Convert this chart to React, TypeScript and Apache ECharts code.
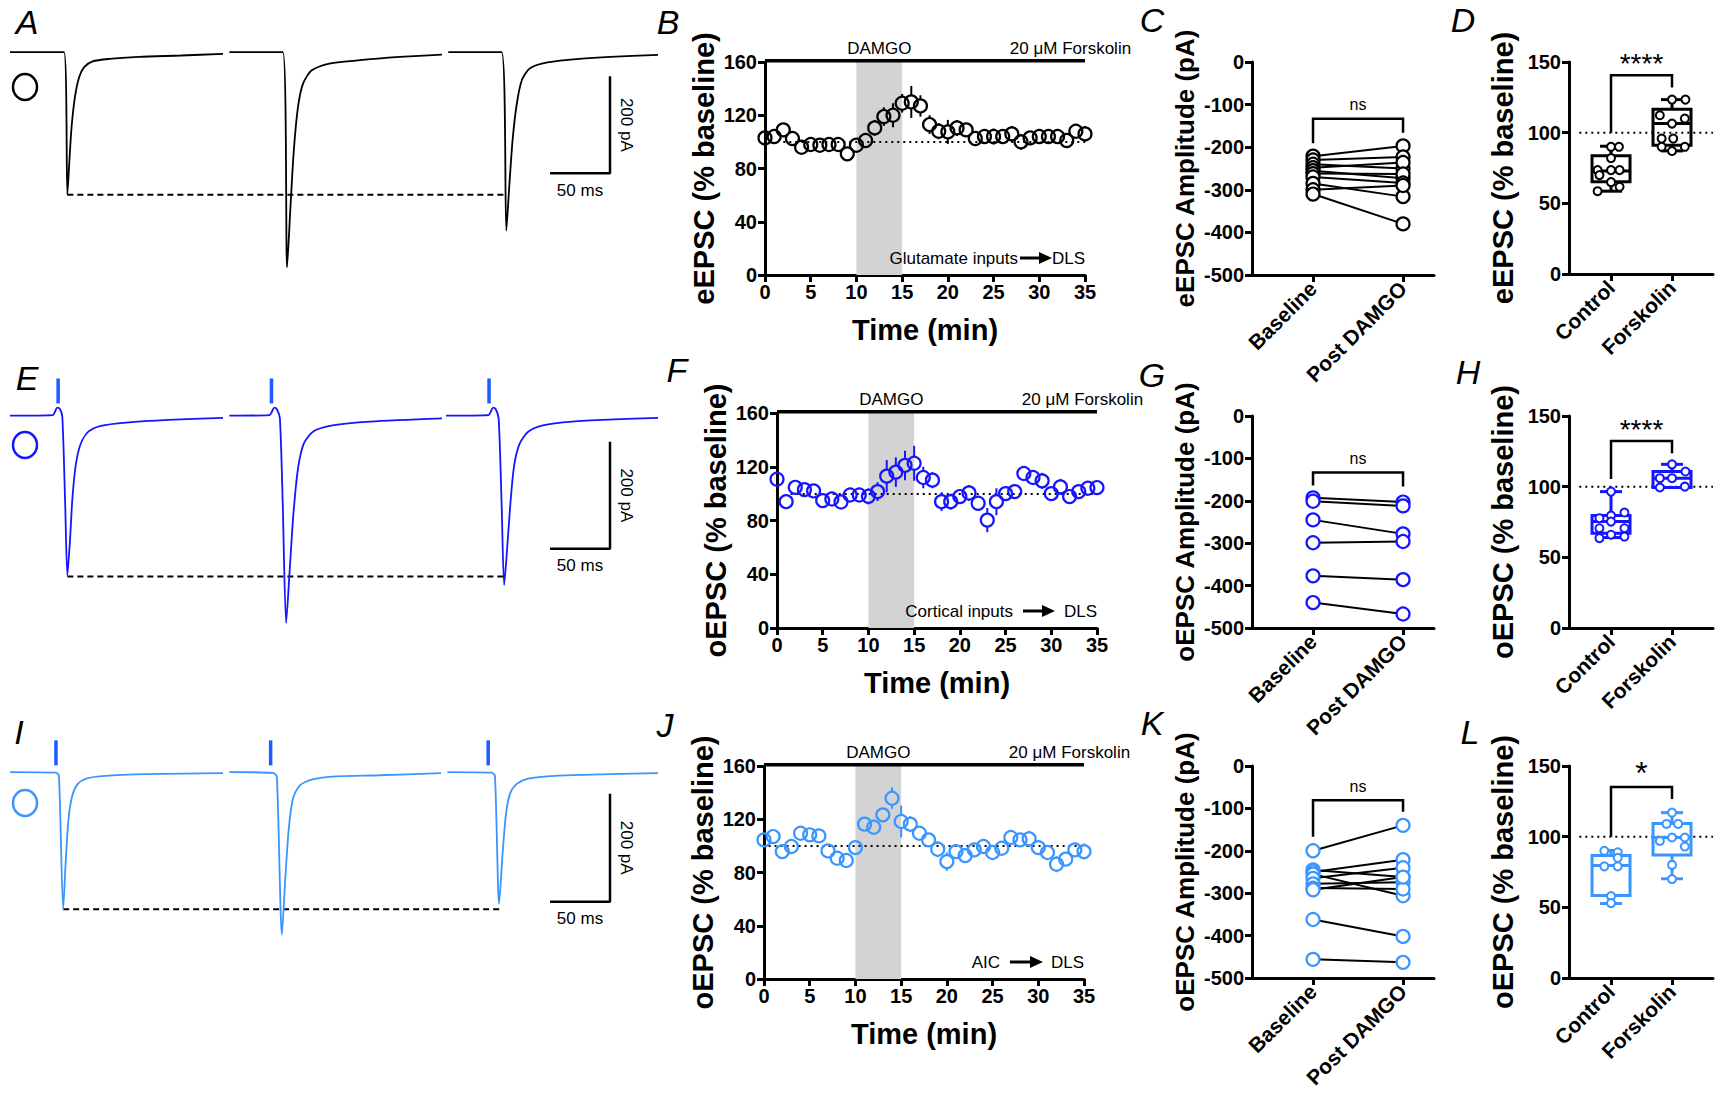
import React, { useEffect, useRef } from "react";
import * as echarts from "echarts";

const FONT = '"Liberation Sans", Arial, Helvetica, sans-serif';
const BLACK = "#000000";
const BLUE = "#1515ff";
const LBLUE = "#3b95ff";
const STIM = "#1a5cff";

// ---------------- time-course data (B, F, J) ----------------
const timeMin = [0, 1, 2, 3, 4, 5, 6, 7, 8, 9, 10, 11, 12, 13, 14, 15, 16, 17, 18, 19, 20, 21, 22, 23, 24, 25, 26, 27, 28, 29, 30, 31, 32, 33, 34, 35];
const bMean = [103, 104, 109, 102.5, 96, 98, 97.5, 98, 98, 91, 97.5, 101, 110.5, 119, 120, 129, 130, 127, 113, 108, 107.5, 110.5, 109, 102.5, 104, 104, 104, 106, 100, 103, 104, 104, 104, 101, 108, 106];
const bSem = [3, 3, 3, 3, 3, 3, 3, 3, 5, 3, 3, 3, 6, 7, 9, 7, 12, 8, 7, 6, 9, 6, 5, 3, 3, 6, 4, 6, 6, 3, 3, 3, 3, 4, 3, 6];
const fMean = [110.7, 94, 104.7, 103, 102, 94.8, 96, 93.8, 99, 99, 98, 101.5, 113, 116, 121, 122.6, 112, 110, 94, 94, 97.8, 100.5, 92.8, 80.3, 94, 100, 101.5, 115, 112, 109.5, 100, 105, 97.8, 101.5, 104, 104.5];
const fSem = [3, 5, 3, 3, 3, 3, 3, 3, 4, 4, 6, 7, 12, 11, 11, 13, 8, 6, 7, 6, 5, 6, 3, 9, 10, 3, 5, 3, 5, 6, 3, 6, 3, 5, 3, 3];
const jMean = [104.5, 107, 95.7, 99.5, 109.5, 108.3, 107.5, 96.2, 90.7, 89, 98.7, 116.3, 114, 123.3, 135.8, 118.3, 116.3, 109.5, 104.5, 97.5, 88.2, 95.7, 92.7, 97, 99.5, 95, 98.2, 106.3, 104.5, 105.3, 98.7, 95, 86.2, 90, 97, 95.7];
const jSem = [3, 3, 3, 3, 3, 3, 3, 3, 3, 3, 3, 3, 5, 5, 8, 12, 6, 4, 5, 6, 7, 5, 5, 3, 3, 4, 3, 5, 5, 6, 3, 3, 6, 5, 3, 6];
const tcXTicks = [0, 35, 5];
const tcYTicks = [0, 160, 40];
const damgoWindow = [10, 15];
const drugBarLevel = 161;
const baselineLevel = 100;

// ---------------- paired data (C, G, K) ----------------
const pairedCats = ["Baseline", "Post DAMGO"];
const cBaseline = [-221, -230, -240, -248, -255, -262, -270, -285, -300, -310];
const cPost = [-197, -223, -250, -236, -273, -263, -284, -316, -290, -380];
const gBaseline = [-193, -201, -245, -299, -377, -440];
const gPost = [-203, -212, -278, -296, -386, -467];
const kBaseline = [-200, -245, -250, -255, -265, -278, -288, -292, -362, -456];
const kPost = [-140, -262, -221, -306, -240, -274, -290, -262, -402, -463];
const pairedYTicks = [-500, 0, 100];

// brackets: [x0, x1, top, leg0, leg1]
const cBracket = [0, 1, -133, -191, -166];
const gBracket = [0, 1, -133, -164, -166];
const kBracket = [0, 1, -81, -167, -108];
const dBracket = [0, 1, 140.6, 100, 131.9];
const hBracket = [0, 1, 132.3, 105.5, 123.6];
const lBracket = [0, 1, 135.2, 100, 126.6];

// ---------------- box data (D, H, L) ----------------
const boxCats = ["Control", "Forskolin"];
const boxYTicks = [0, 150, 50];
// [min, q1, median, q3, max]
const dControlBox = [58.6, 65.2, 72.8, 83.6, 90.4];
const dForskBox = [87.1, 91.1, 106.4, 116.5, 123.4];
const hControlBox = [64, 67.1, 75.3, 79.6, 96.5];
const hForskBox = [99.4, 99.4, 106, 110.7, 115.8];
const lControlBox = [52.7, 58.4, 79.6, 86.6, 90.2];
const lForskBox = [70.2, 87.1, 99.4, 109.3, 117];
const dControlPts = [[0, 90], [0.13, 90], [0, 82], [-0.22, 73.5], [0, 73.5], [0.14, 73.5], [-0.19, 70], [0, 65], [-0.22, 58.6], [0.14, 61.7]];
const dForskPts = [[0.22, 123.4], [0, 123.4], [-0.2, 112.3], [0.21, 110], [0, 106.4], [-0.17, 95.8], [0.02, 95.8], [-0.17, 90], [0.21, 90], [0, 87]];
const hControlPts = [[0, 96.5], [0.22, 81.7], [0, 79.6], [-0.19, 77.7], [0, 75.3], [-0.19, 70.6], [0.22, 70.6], [0, 66], [-0.19, 63.6], [0.22, 64.7]];
const hForskPts = [[0, 115.8], [0.22, 110.7], [-0.2, 106], [0, 106], [-0.2, 99.4], [0.21, 100]];
const lControlPts = [[-0.11, 90], [0.11, 89], [0.11, 85], [-0.11, 79], [0.11, 79], [0, 58], [0, 53]];
const lForskPts = [[0, 117], [-0.09, 109], [0.1, 109], [-0.2, 97], [0, 99.4], [0.21, 99.4], [0.21, 93], [0, 80], [0, 70]];

// ---------------- traces (A, E, I): [ms, pA] ----------------
const aSweeps = [
  [[0, 0], [45, 0], [47.8, -294], [49.5, -224], [51.3, -155], [54.1, -93], [57.6, -52], [61.8, -31], [68.8, -19], [82.9, -14], [107.4, -10], [142.5, -7], [177.5, -3.5]],
  [[182.8, 0], [227.4, 0], [230.9, -444], [233.7, -320], [236.5, -203], [240, -113], [244.2, -65], [251.2, -38], [265.2, -24], [289.8, -17], [324.8, -10], [359.9, -5]],
  [[365.2, 0], [409.7, 0], [413.6, -368], [416, -279], [418.8, -182], [422.3, -107], [426.5, -58], [432.9, -34], [444.1, -23], [465.1, -16], [500.2, -10], [540, -5.5]],
];
const eSweeps = [
  [[0, -1], [35.5, 0], [39.4, 14], [41.5, 12], [43.6, -3], [46, -168], [47.8, -300], [49.9, -237], [52, -156], [54.8, -93], [59, -53], [65.3, -31], [75.8, -20], [96.9, -14], [132, -9], [177.5, -5]],
  [[182.8, -1], [216.1, 0], [220.3, 14], [222.4, 11], [224.9, -6], [227.3, -168], [230.1, -389], [233, -293], [236.1, -187], [240, -100], [244.9, -53], [253, -30], [268.7, -19], [300.3, -12], [360, -6]],
  [[363.4, -1], [398.5, 0], [402.7, 14], [404.8, 11], [407.2, -6], [409.7, -168], [411.8, -318], [414.3, -249], [417.1, -162], [420.2, -93], [424.8, -53], [431.8, -31], [444.1, -19], [468.6, -12], [503.7, -8], [540, -5]],
];
const iSweeps = [
  [[0, 0], [38.3, -1], [40.8, -7], [44.3, -254], [46.4, -167], [48.8, -86], [52, -43], [56.5, -22], [63.6, -12], [79.4, -7], [114.4, -4], [177.5, -2]],
  [[182.8, 0], [219.6, -2], [222.4, -9], [226.6, -301], [229.4, -198], [232.3, -105], [235.8, -49], [241.4, -25], [251.2, -14], [272.2, -8], [307.3, -6], [359.2, -2]],
  [[364.5, 0], [401.3, -1], [404.1, -7], [407.6, -244], [410.4, -154], [413.2, -80], [416.7, -40], [422.3, -22], [431.8, -12], [454.6, -7], [500.2, -4], [540, -2]],
];
const aPeakLine = [[47.8, -294], [413.6, -294]];
const ePeakLine = [[47.8, -302], [411.8, -302]];
const iPeakLine = [[44.3, -254], [410, -254]];
const eStim = [[40.1, 21.8, 68.5], [217.9, 21.8, 68.5], [399.2, 21.8, 68.5]];
const iStim = [[38.3, 12.3, 58.6], [217.2, 12.3, 58.6], [398.5, 12.3, 58.6]];
const aScaleBar = [[450, -250], [500, -250], [500, -50]];
const eScaleBar = [[450, -250], [500, -250], [500, -50]];
const iScaleBar = [[450, -240], [500, -240], [500, -40]];

// ---------------- layout ----------------
type G = { left: number; top: number; width: number; height: number };
const GRID: G[] = [
  { left: 10, top: 40, width: 648, height: 240 }, // A
  { left: 765, top: 62, width: 320, height: 213 }, // B
  { left: 1252, top: 62, width: 182, height: 213 }, // C
  { left: 1569, top: 62, width: 144, height: 212 }, // D
  { left: 10, top: 367, width: 648, height: 270 }, // E
  { left: 777, top: 413, width: 320, height: 215 }, // F
  { left: 1252, top: 416, width: 182, height: 212 }, // G
  { left: 1569, top: 416, width: 144, height: 212 }, // H
  { left: 10, top: 725, width: 648, height: 220 }, // I
  { left: 764, top: 766, width: 320, height: 213 }, // J
  { left: 1252, top: 766, width: 182, height: 212 }, // K
  { left: 1569, top: 766, width: 144, height: 212 }, // L
];
const traceX = [0, 540];
const aY = [-470, 25];
const eY = [-415, 90];
const iY = [-320, 87];
const pairedX = [-0.678, 1.344];
const boxX = [-0.689, 1.672];

function px(g: G, xr: number[], yr: number[], x: number, y: number) {
  return [g.left + ((x - xr[0]) / (xr[1] - xr[0])) * g.width, g.top + ((yr[1] - y) / (yr[1] - yr[0])) * g.height];
}

const axisBase = () => ({
  axisLine: { show: true, onZero: false, lineStyle: { color: BLACK, width: 3 } },
  axisTick: { show: true, length: 7, lineStyle: { color: BLACK, width: 3 } },
  axisLabel: { color: BLACK, fontFamily: FONT, fontWeight: "bold", fontSize: 20, margin: 8 },
  splitLine: { show: false },
  nameTextStyle: { color: BLACK, fontFamily: FONT, fontWeight: "bold", fontSize: 29 },
});

function buildOption() {
  const xAxis: any[] = [];
  const yAxis: any[] = [];
  const series: any[] = [];
  const graphic: any[] = [];

  const text = (x: number, y: number, t: string, o: any = {}) =>
    graphic.push({
      type: "text",
      x,
      y,
      z: 100,
      rotation: o.rotation || 0,
      silent: true,
      style: {
        text: t,
        fill: o.color || BLACK,
        fontFamily: FONT,
        fontSize: o.size || 15,
        fontWeight: o.weight || "normal",
        fontStyle: o.style || "normal",
        align: o.align || "center",
        verticalAlign: o.va || "middle",
      },
    });

  // ---- trace panels ----
  const traces = [
    { gi: 0, sweeps: aSweeps, y: aY, color: BLACK, peak: aPeakLine, stim: null as any, bar: aScaleBar },
    { gi: 4, sweeps: eSweeps, y: eY, color: BLUE, peak: ePeakLine, stim: eStim, bar: eScaleBar },
    { gi: 8, sweeps: iSweeps, y: iY, color: LBLUE, peak: iPeakLine, stim: iStim, bar: iScaleBar },
  ];
  traces.forEach((t) => {
    xAxis[t.gi] = { gridIndex: t.gi, type: "value", min: traceX[0], max: traceX[1], show: false };
    yAxis[t.gi] = { gridIndex: t.gi, type: "value", min: t.y[0], max: t.y[1], show: false };
    t.sweeps.forEach((sw) =>
      series.push({
        type: "line", xAxisIndex: t.gi, yAxisIndex: t.gi, data: sw, showSymbol: false, symbol: "none",
        lineStyle: { color: t.color, width: 1.8 }, smooth: 0.25, clip: false, z: 3,
      })
    );
    series.push({
      type: "line", xAxisIndex: t.gi, yAxisIndex: t.gi, data: t.peak, showSymbol: false, symbol: "none",
      lineStyle: { color: BLACK, width: 2, type: [6, 4] }, z: 2,
    });
    series.push({
      type: "line", xAxisIndex: t.gi, yAxisIndex: t.gi, data: t.bar, showSymbol: false, symbol: "none",
      lineStyle: { color: BLACK, width: 2.5 }, z: 2,
    });
    if (t.stim) {
      series.push({
        type: "custom", xAxisIndex: t.gi, yAxisIndex: t.gi, data: t.stim, encode: { x: 0, y: [1, 2] }, z: 4,
        renderItem: (_p: any, api: any) => {
          const a = api.coord([api.value(0), api.value(1)]);
          const b = api.coord([api.value(0), api.value(2)]);
          return { type: "line", shape: { x1: a[0], y1: a[1], x2: b[0], y2: b[1] }, style: { stroke: STIM, lineWidth: 3.5 } };
        },
      });
    }
    const g = GRID[t.gi];
    const mid = px(g, traceX, t.y, 500, (t.bar[1][1] + t.bar[2][1]) / 2);
    text(mid[0] + 16, mid[1], "200 pA", { size: 17, rotation: -Math.PI / 2 });
    const bot = px(g, traceX, t.y, 475, t.bar[0][1]);
    text(bot[0], bot[1] + 17, "50 ms", { size: 17 });
  });

  // circles (condition symbol)
  [
    { cy: 87, color: BLACK },
    { cy: 445, color: BLUE },
    { cy: 803, color: LBLUE },
  ].forEach((c) =>
    graphic.push({ type: "ellipse", z: 100, shape: { cx: 25, cy: c.cy, rx: 12, ry: 13 }, style: { fill: "none", stroke: c.color, lineWidth: 2.5 }, silent: true })
  );

  // ---- time-course panels ----
  const tcs = [
    { gi: 1, mean: bMean, sem: bSem, color: BLACK, yName: "eEPSC (% baseline)", dotStart: 2, src: "Glutamate inputs", off: [67, 65, 33] },
    { gi: 5, mean: fMean, sem: fSem, color: BLUE, yName: "oEPSC (% baseline)", dotStart: 1.5, src: "Cortical inputs", off: [84, 74, 42] },
    { gi: 9, mean: jMean, sem: jSem, color: LBLUE, yName: "oEPSC (% baseline)", dotStart: 0.5, src: "AIC", off: [84, 74, 41] },
  ];
  tcs.forEach((t) => {
    const ab = axisBase();
    xAxis[t.gi] = {
      ...ab, gridIndex: t.gi, type: "value", min: tcXTicks[0], max: tcXTicks[1], interval: tcXTicks[2],
      name: "Time (min)", nameLocation: "middle", nameGap: 40,
      axisLabel: { ...ab.axisLabel, margin: 7 },
    };
    yAxis[t.gi] = {
      ...ab, gridIndex: t.gi, type: "value", min: tcYTicks[0], max: tcYTicks[1], interval: tcYTicks[2],
      name: t.yName, nameLocation: "middle", nameGap: 47, nameRotate: 90,
    };
    series.push({
      type: "line", xAxisIndex: t.gi, yAxisIndex: t.gi, symbol: "none", showSymbol: false, clip: false, z: 1,
      data: [[tcXTicks[0], drugBarLevel], [tcXTicks[1], drugBarLevel]],
      lineStyle: { color: BLACK, width: 3.5 },
      markArea: {
        silent: true, itemStyle: { color: "#d3d3d3" },
        data: [[{ xAxis: damgoWindow[0], yAxis: tcYTicks[0] }, { xAxis: damgoWindow[1], yAxis: tcYTicks[1] }]],
      },
      markLine: {
        silent: true, symbol: ["none", "none"], label: { show: false },
        lineStyle: { color: BLACK, width: 2, type: [2, 4] },
        data: [[{ coord: [t.dotStart, baselineLevel] }, { coord: [tcXTicks[1], baselineLevel] }]],
      },
    });
    const data = timeMin.map((x, i) => [x, t.mean[i], t.sem[i]]);
    series.push({
      type: "custom", xAxisIndex: t.gi, yAxisIndex: t.gi, data, encode: { x: 0, y: 1 }, z: 5,
      renderItem: (_p: any, api: any) => {
        const x = api.value(0), y = api.value(1), e = api.value(2);
        const p = api.coord([x, y]);
        const tp = api.coord([x, y + e]);
        const bt = api.coord([x, y - e]);
        const r = 6.5;
        const ch: any[] = [];
        if (p[1] - tp[1] > r) ch.push({ type: "line", shape: { x1: p[0], y1: tp[1], x2: p[0], y2: p[1] - r }, style: { stroke: t.color, lineWidth: 2 } });
        if (bt[1] - p[1] > r) ch.push({ type: "line", shape: { x1: p[0], y1: p[1] + r, x2: p[0], y2: bt[1] }, style: { stroke: t.color, lineWidth: 2 } });
        ch.push({ type: "circle", shape: { cx: p[0], cy: p[1], r }, style: { fill: "none", stroke: t.color, lineWidth: 2.2 } });
        return { type: "group", children: ch };
      },
    });
    const g = GRID[t.gi];
    const right = g.left + g.width;
    const dm = px(g, tcXTicks, tcYTicks, (damgoWindow[0] + damgoWindow[1]) / 2, tcYTicks[1]);
    text(dm[0], g.top - 14, "DAMGO", { size: 17 });
    const fk = px(g, tcXTicks, tcYTicks, 27, tcYTicks[1]);
    text(fk[0] - 2, g.top - 14, "20 μM Forskolin", { size: 17, align: "left" });
    const yb = g.top + g.height - 17;
    text(right - t.off[0], yb, t.src, { size: 17, align: "right" });
    graphic.push({ type: "line", z: 100, shape: { x1: right - t.off[1], y1: yb, x2: right - t.off[2] - 10, y2: yb }, style: { stroke: BLACK, lineWidth: 3 }, silent: true });
    graphic.push({ type: "polygon", z: 100, shape: { points: [[right - t.off[2] - 13, yb - 6], [right - t.off[2], yb], [right - t.off[2] - 13, yb + 6]] }, style: { fill: BLACK }, silent: true });
    text(right, yb, "DLS", { size: 17, align: "right" });
  });

  // ---- bracket helper ----
  const bracket = (gi: number, br: number[], label: string, size: number, gap: number) => {
    series.push({
      type: "custom", xAxisIndex: gi, yAxisIndex: gi, data: [br], encode: { x: [0, 1], y: [2, 3, 4] }, z: 6,
      renderItem: (_p: any, api: any) => {
        const a = api.coord([api.value(0), api.value(3)]);
        const b = api.coord([api.value(0), api.value(2)]);
        const c = api.coord([api.value(1), api.value(2)]);
        const d = api.coord([api.value(1), api.value(4)]);
        return {
          type: "group",
          children: [
            { type: "polyline", shape: { points: [a, b, c, d] }, style: { stroke: BLACK, lineWidth: 2.5, fill: null } },
            { type: "text", x: (b[0] + c[0]) / 2, y: b[1] - gap, style: { text: label, fill: BLACK, fontFamily: FONT, fontSize: size, align: "center", verticalAlign: "middle" } },
          ],
        };
      },
    });
  };

  // ---- paired panels ----
  const pairs = [
    { gi: 2, base: cBaseline, post: cPost, color: BLACK, yName: "eEPSC Amplitude (pA)", br: cBracket },
    { gi: 6, base: gBaseline, post: gPost, color: BLUE, yName: "oEPSC Amplitude (pA)", br: gBracket },
    { gi: 10, base: kBaseline, post: kPost, color: LBLUE, yName: "oEPSC Amplitude (pA)", br: kBracket },
  ];
  pairs.forEach((p) => {
    const ab = axisBase();
    xAxis[p.gi] = {
      ...ab, gridIndex: p.gi, type: "value", min: pairedX[0], max: pairedX[1],
      axisTick: { ...ab.axisTick, customValues: [0, 1] },
      axisLabel: { ...ab.axisLabel, fontSize: 21, rotate: 45, margin: 10, customValues: [0, 1], formatter: (v: number) => pairedCats[Math.round(v)] },
    };
    yAxis[p.gi] = {
      ...ab, gridIndex: p.gi, type: "value", min: pairedYTicks[0], max: pairedYTicks[1], interval: pairedYTicks[2],
      name: p.yName, nameLocation: "middle", nameGap: 54, nameRotate: 90,
      nameTextStyle: { ...ab.nameTextStyle, fontSize: 26 },
    };
    series.push({
      type: "custom", xAxisIndex: p.gi, yAxisIndex: p.gi, z: 3,
      data: p.base.map((b, i) => [b, p.post[i]]), encode: { y: [0, 1] },
      renderItem: (_q: any, api: any) => {
        const a = api.coord([0, api.value(0)]);
        const b = api.coord([1, api.value(1)]);
        return { type: "line", shape: { x1: a[0], y1: a[1], x2: b[0], y2: b[1] }, style: { stroke: BLACK, lineWidth: 2 } };
      },
    });
    series.push({
      type: "scatter", xAxisIndex: p.gi, yAxisIndex: p.gi, z: 4, symbol: "circle", symbolSize: 13,
      itemStyle: { color: "#ffffff", borderColor: p.color, borderWidth: 2.2, opacity: 1 },
      data: [...p.base.map((v) => [0, v]), ...p.post.map((v) => [1, v])],
    });
    bracket(p.gi, p.br, "ns", 16, 14);
  });

  // ---- box panels ----
  const boxes = [
    { gi: 3, c: dControlBox, f: dForskBox, cp: dControlPts, fp: dForskPts, color: BLACK, yName: "eEPSC (% baseline)", br: dBracket, lab: "****" },
    { gi: 7, c: hControlBox, f: hForskBox, cp: hControlPts, fp: hForskPts, color: BLUE, yName: "oEPSC (% baseline)", br: hBracket, lab: "****" },
    { gi: 11, c: lControlBox, f: lForskBox, cp: lControlPts, fp: lForskPts, color: LBLUE, yName: "oEPSC (% baseline)", br: lBracket, lab: "*" },
  ];
  boxes.forEach((b) => {
    const ab = axisBase();
    xAxis[b.gi] = {
      ...ab, gridIndex: b.gi, type: "value", min: boxX[0], max: boxX[1],
      axisTick: { ...ab.axisTick, customValues: [0, 1] },
      axisLabel: { ...ab.axisLabel, fontSize: 21, rotate: 45, margin: 10, customValues: [0, 1], formatter: (v: number) => boxCats[Math.round(v)] },
    };
    yAxis[b.gi] = {
      ...ab, gridIndex: b.gi, type: "value", min: boxYTicks[0], max: boxYTicks[1], interval: boxYTicks[2],
      name: b.yName, nameLocation: "middle", nameGap: 52, nameRotate: 90,
    };
    series.push({
      type: "line", xAxisIndex: b.gi, yAxisIndex: b.gi, data: [[-0.52, baselineLevel], [boxX[1], baselineLevel]],
      symbol: "none", showSymbol: false, z: 1, lineStyle: { color: BLACK, width: 2, type: [2, 4] },
    });
    series.push({
      type: "custom", xAxisIndex: b.gi, yAxisIndex: b.gi, z: 3,
      data: [[0, ...b.c], [1, ...b.f]], encode: { x: 0, y: [1, 2, 3, 4, 5] },
      renderItem: (_q: any, api: any) => {
        const x = api.value(0);
        const pMin = api.coord([x, api.value(1)]);
        const pQ1 = api.coord([x, api.value(2)]);
        const pMd = api.coord([x, api.value(3)]);
        const pQ3 = api.coord([x, api.value(4)]);
        const pMax = api.coord([x, api.value(5)]);
        const cx = pMd[0], hw = 19, cap = 11;
        const st = { stroke: b.color, lineWidth: 3, fill: null };
        return {
          type: "group",
          children: [
            { type: "rect", shape: { x: cx - hw, y: pQ3[1], width: 2 * hw, height: Math.max(pQ1[1] - pQ3[1], 1) }, style: { ...st } },
            { type: "line", shape: { x1: cx - hw, y1: pMd[1], x2: cx + hw, y2: pMd[1] }, style: { ...st } },
            { type: "line", shape: { x1: cx, y1: pQ3[1], x2: cx, y2: pMax[1] }, style: { ...st } },
            { type: "line", shape: { x1: cx, y1: pQ1[1], x2: cx, y2: pMin[1] }, style: { ...st } },
            { type: "line", shape: { x1: cx - cap, y1: pMax[1], x2: cx + cap, y2: pMax[1] }, style: { ...st } },
            { type: "line", shape: { x1: cx - cap, y1: pMin[1], x2: cx + cap, y2: pMin[1] }, style: { ...st } },
          ],
        };
      },
    });
    series.push({
      type: "scatter", xAxisIndex: b.gi, yAxisIndex: b.gi, z: 4, symbol: "circle", symbolSize: 8,
      itemStyle: { color: "#ffffff", borderColor: b.color, borderWidth: 2, opacity: 1 },
      data: [...b.cp, ...b.fp.map((q) => [1 + q[0], q[1]])],
    });
    bracket(b.gi, b.br, b.lab, b.lab === "*" ? 32 : 28, b.lab === "*" ? 14 : 12);
  });

  // panel letters
  const letters: [string, number, number][] = [
    ["A", 27, 22], ["B", 668, 22], ["C", 1152, 20], ["D", 1463, 20],
    ["E", 27, 378], ["F", 677, 370], ["G", 1152, 375], ["H", 1468, 372],
    ["I", 19, 732], ["J", 665, 725], ["K", 1152, 723], ["L", 1470, 732],
  ];
  letters.forEach(([t, x, y]) => text(x, y, t, { size: 34, style: "italic" }));

  return {
    animation: false,
    backgroundColor: "#ffffff",
    grid: GRID.map((g) => ({ ...g, containLabel: false })),
    xAxis,
    yAxis,
    series,
    graphic,
  };
}

export default function App() {
  const ref = useRef<HTMLDivElement>(null);
  useEffect(() => {
    if (!ref.current) return;
    const chart = echarts.init(ref.current, null, { renderer: "svg" });
    chart.setOption(buildOption() as any);
    return () => chart.dispose();
  }, []);
  return <div ref={ref} style={{ position: "absolute", left: 0, top: 0, width: 1724, height: 1099, background: "#fff" }} />;
}
